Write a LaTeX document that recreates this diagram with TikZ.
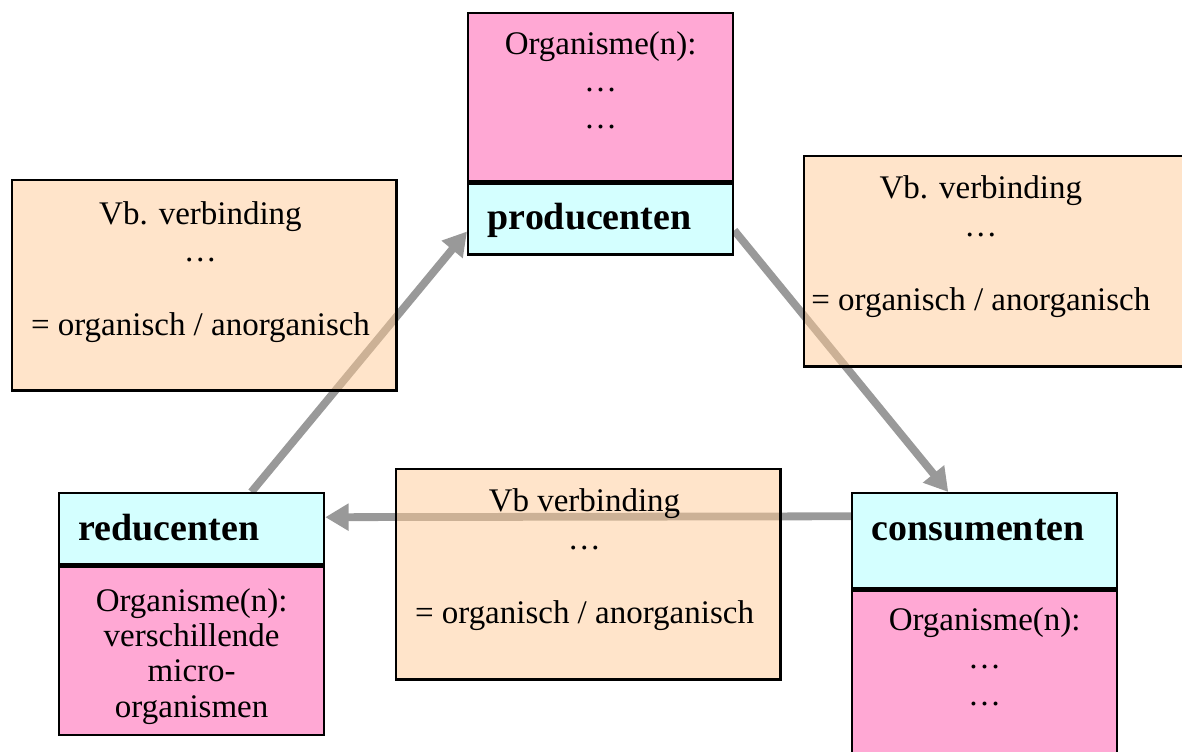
\documentclass[tikz,border=0pt]{standalone}
\usepackage{fontspec}
\setmainfont{Liberation Serif}
\usepackage{tikz}
\usetikzlibrary{arrows.meta,positioning,backgrounds}
\definecolor{orgpink}{RGB}{255,168,212}
\definecolor{groupcyan}{RGB}{212,255,255}
\definecolor{linkpeach}{RGB}{255,201,149}
\definecolor{flowgray}{RGB}{153,153,153}

\begin{document}
\begin{tikzpicture}[
    x=0.385pt,y=-0.385pt,
    box/.style={draw,line width=0.9pt,anchor=north west,inner sep=0pt},
    head/.style={box,fill=groupcyan,minimum width=102pt},
    body/.style={box,fill=orgpink,minimum width=102pt},
    link/.style={box,fill=linkpeach,fill opacity=0.5,
                 minimum width=148pt,minimum height=81pt},
    txt/.style={inner sep=0pt,align=center,
                font=\fontsize{12.7pt}{14.3pt}\selectfont},
    htxt/.style={inner sep=0pt,anchor=base west,
                 font=\fontsize{14.6pt}{16pt}\selectfont\bfseries},
    arr/.style={-{Triangle[length=9pt,width=10pt]},line width=3pt,flowgray},
  ]
  \useasboundingbox (0,0) rectangle (1182,752);
  \clip (0,0) rectangle (1182,752);
  % producenten
  \node[body,minimum height=64.7pt](prodbody) at (467,12){};
  \node[head,minimum height=27.3pt](prodhead) at (prodbody.south west){};
  \node[txt,below=7.4pt of prodbody.north](prodtxt){Organisme(n):\\…\\…};
  \node[htxt](prodname) at ([shift={(7.8pt,-18.3pt)}]prodhead.north west){producenten};
  % reducenten
  \node[head,minimum height=27.3pt](redhead) at (58,492){};
  \node[body,minimum height=65pt](redbody) at (redhead.south west){};
  \node[htxt](redname) at ([shift={(7.8pt,-18.5pt)}]redhead.north west){reducenten};
  \node[txt,below=8.7pt of redbody.north,
        font=\fontsize{12.7pt}{13.6pt}\selectfont](redtxt){Organisme(n):\\verschillende\\micro-\\organismen};
  % consumenten
  \node[head,minimum height=36.6pt](conshead) at (851,492){};
  \node[body,minimum height=72pt](consbody) at (conshead.south west){};
  \node[htxt](consname) at ([shift={(7.8pt,-18.7pt)}]conshead.north west){consumenten};
  \node[txt,below=7pt of consbody.north](constxt){Organisme(n):\\…\\…};
  % verbindingen
  \node[link](lbox) at (11,179){};
  \node[txt,below=8.4pt of lbox.north,xshift=-1.5pt](ltxt){Vb. verbinding\\…\\[14.3pt]= organisch / anorganisch};
  \node[link](rbox) at (803,155){};
  \node[txt,below=7.9pt of rbox.north,xshift=-6pt](rtxt){Vb. verbinding\\…\\[14.3pt]= organisch / anorganisch};
  \node[link](bbox) at (395,468){};
  \node[txt,below=7.9pt of bbox.north,xshift=-1.5pt](btxt){Vb verbinding\\…\\[14.3pt]= organisch / anorganisch};
  \begin{scope}[on background layer]
    \draw[arr]([xshift=23pt]redhead.north)--([yshift=-4.8pt]prodhead.west);
    \draw[arr]([yshift=-4.4pt]prodhead.east)--([xshift=-14pt]conshead.north);
    \draw[arr]([yshift=9.4pt]conshead.west)--([yshift=4.4pt]redhead.east);
  \end{scope}
\end{tikzpicture}
\end{document}
